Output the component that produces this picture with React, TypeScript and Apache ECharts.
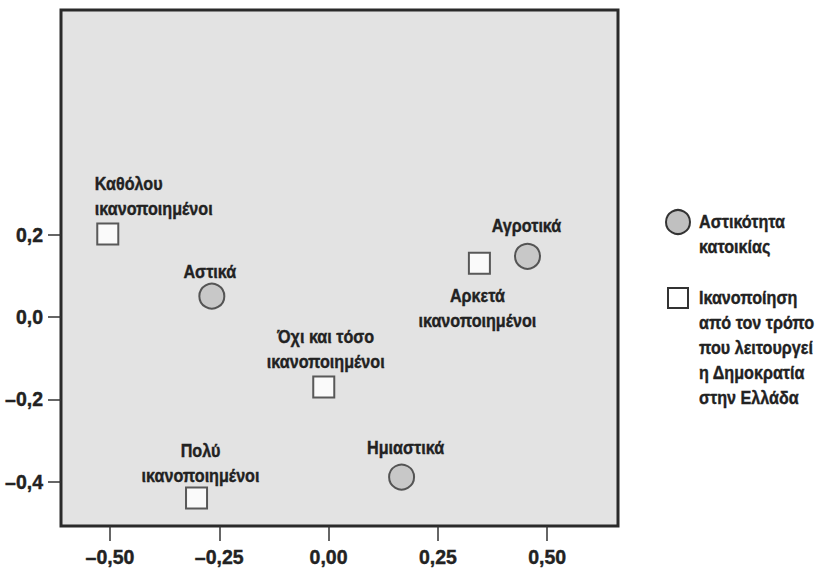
import React, { useEffect, useRef } from "react";
import * as echarts from "echarts";

const xTickValues = [-0.5, -0.25, 0, 0.25, 0.5];
const xTickLabels = ["–0,50", "–0,25", "0,00", "0,25", "0,50"];
const yTickValues = [-0.4, -0.2, 0, 0.2];
const yTickLabels = ["–0,4", "–0,2", "0,0", "0,2"];

const circleNames = ["Αστικά", "Ημιαστικά", "Αγροτικά"];
const circleX = [-0.267, 0.167, 0.455];
const circleY = [0.051, -0.389, 0.148];

const squareNames = [
  "Καθόλου\nικανοποιημένοι",
  "Πολύ\nικανοποιημένοι",
  "Όχι και τόσο\nικανοποιημένοι",
  "Αρκετά\nικανοποιημένοι",
];
const squareX = [-0.505, -0.302, -0.011, 0.345];
const squareY = [0.202, -0.44, -0.17, 0.131];

const legendCircleText = "Αστικότητα\nκατοικίας";
const legendSquareText = "Ικανοποίηση\nαπό τον τρόπο\nπου λειτουργεί\nη Δημοκρατία\nστην Ελλάδα";

// label placement relative to the mark (layout only)
const labelLayout: Record<string, { dx: number; dy: number; align: string }> = {
  "Αστικά": { dx: -2, dy: -25, align: "center" },
  "Ημιαστικά": { dx: 4, dy: -30, align: "center" },
  "Αγροτικά": { dx: -1, dy: -31, align: "center" },
  "Καθόλου\nικανοποιημένοι": { dx: -13, dy: -38, align: "left" },
  "Πολύ\nικανοποιημένοι": { dx: 4, dy: -35, align: "center" },
  "Όχι και τόσο\nικανοποιημένοι": { dx: 2, dy: -38, align: "center" },
  "Αρκετά\nικανοποιημένοι": { dx: -2, dy: 45, align: "center" },
};

const FONT = "'Liberation Sans', Arial, sans-serif";
const LABEL_FONT = `bold 19px ${FONT}`;
const NARROW = 0.85;
const TEXT = "#222";
const STROKE = "#333";

export default function App() {
  const ref = useRef<HTMLDivElement>(null);
  useEffect(() => {
    if (!ref.current) return;
    const chart = echarts.init(ref.current, undefined, { renderer: "svg" });
    const fmt = (vals: number[], labels: string[]) => (v: number) => {
      const i = vals.findIndex((t) => Math.abs(t - v) < 1e-6);
      return i >= 0 ? labels[i] : "";
    };
    const axisLabelStyle = {
      fontFamily: FONT,
      fontWeight: "bold",
      fontSize: 19.5,
      color: TEXT,
      textBorderColor: TEXT,
      textBorderWidth: 0.4,
    };
    chart.setOption({
      animation: false,
      backgroundColor: "#ffffff",
      grid: {
        left: 61,
        top: 10,
        width: 557,
        height: 516,
        show: true,
        backgroundColor: "#e3e3e3",
        borderColor: "#2a2a2a",
        borderWidth: 3,
      },
      xAxis: {
        type: "value",
        min: -0.612,
        max: 0.662,
        axisLine: { show: false, onZero: false },
        splitLine: { show: false },
        axisTick: {
          show: true,
          customValues: xTickValues,
          length: 15,
          lineStyle: { color: STROKE, width: 1.5 },
        },
        axisLabel: {
          customValues: xTickValues,
          formatter: fmt(xTickValues, xTickLabels),
          margin: 21,
          ...axisLabelStyle,
        },
      },
      yAxis: {
        type: "value",
        min: -0.508,
        max: 0.747,
        axisLine: { show: false, onZero: false },
        splitLine: { show: false },
        axisTick: {
          show: true,
          customValues: yTickValues,
          length: 13,
          lineStyle: { color: STROKE, width: 1.5 },
        },
        axisLabel: {
          customValues: yTickValues,
          formatter: fmt(yTickValues, yTickLabels),
          margin: 18,
          ...axisLabelStyle,
        },
      },
      series: [
        {
          type: "scatter",
          name: "Αστικότητα κατοικίας",
          symbol: "circle",
          symbolSize: 25,
          itemStyle: { color: "#c0c0c0", borderColor: STROKE, borderWidth: 2 },
          data: circleNames.map((n, i) => ({ name: n, value: [circleX[i], circleY[i]] })),
        },
        {
          type: "scatter",
          name: "Ικανοποίηση",
          symbol: "rect",
          symbolSize: 21,
          itemStyle: { color: "#ffffff", borderColor: STROKE, borderWidth: 2 },
          data: squareNames.map((n, i) => ({ name: n, value: [squareX[i], squareY[i]] })),
        },
      ],
    });

    const pts: { n: string; x: number; y: number }[] = [
      ...circleNames.map((n, i) => ({ n, x: circleX[i], y: circleY[i] })),
      ...squareNames.map((n, i) => ({ n, x: squareX[i], y: squareY[i] })),
    ];
    const textStyle = (text: string, lh: number, extra: Record<string, any>) => ({
      text,
      font: LABEL_FONT,
      lineHeight: lh,
      fill: TEXT,
      stroke: TEXT,
      lineWidth: 0.4,
      ...extra,
    });
    const labelGraphics = pts.map((p) => {
      const [px, py] = chart.convertToPixel({ xAxisIndex: 0, yAxisIndex: 0 }, [p.x, p.y]) as number[];
      const l = labelLayout[p.n];
      return {
        type: "text",
        x: px + l.dx,
        y: py + l.dy,
        scaleX: NARROW,
        z: 10,
        style: textStyle(p.n, 25, { textAlign: l.align, textVerticalAlign: "middle" }),
      };
    });

    chart.setOption({
      graphic: [
        {
          type: "circle",
          shape: { cx: 678, cy: 222, r: 12 },
          style: { fill: "#c0c0c0", stroke: STROKE, lineWidth: 2 },
        },
        {
          type: "text",
          x: 699,
          y: 222 - 12.5,
          scaleX: NARROW,
          style: textStyle(legendCircleText, 25, { textVerticalAlign: "top" }),
        },
        {
          type: "rect",
          shape: { x: 668, y: 288, width: 20, height: 20 },
          style: { fill: "#ffffff", stroke: STROKE, lineWidth: 2 },
        },
        {
          type: "text",
          x: 699,
          y: 298 - 12.4,
          scaleX: NARROW,
          style: textStyle(legendSquareText, 24.8, { textVerticalAlign: "top" }),
        },
        ...labelGraphics,
      ],
    });
    return () => chart.dispose();
  }, []);
  return (
    <div
      ref={ref}
      style={{ position: "absolute", left: 0, top: 0, width: 827, height: 570, background: "#fff" }}
    />
  );
}
